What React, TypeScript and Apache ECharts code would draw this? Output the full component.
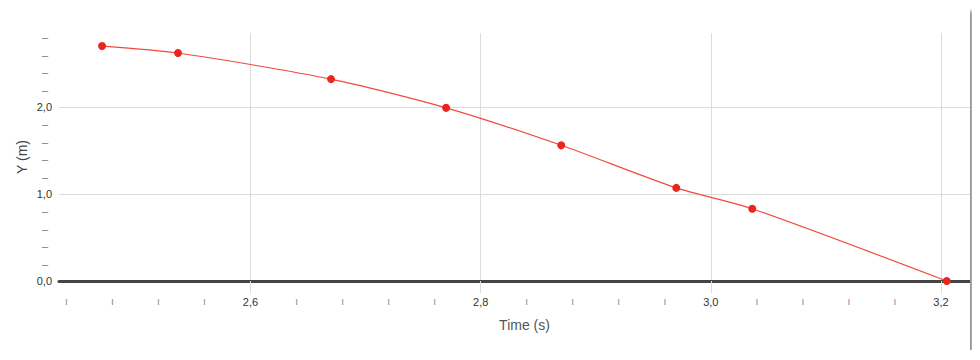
import React, { useEffect, useRef } from "react";
import * as echarts from "echarts";

const times = [2.471, 2.537, 2.67, 2.77, 2.87, 2.97, 3.036, 3.205];
const yValues = [2.7, 2.62, 2.32, 1.99, 1.56, 1.07, 0.83, 0.0];

const xMajorTicks = [2.6, 2.8, 3.0, 3.2];
const xLabelTicks = [
  2.44, 2.48, 2.52, 2.56, 2.6, 2.64, 2.68, 2.72, 2.76, 2.8, 2.84, 2.88, 2.92,
  2.96, 3.0, 3.04, 3.08, 3.12, 3.16, 3.2,
];
const yMajorTicks = [1, 2];
const yLabelTicks = [0, 0.2, 0.4, 0.6, 0.8, 1, 1.2, 1.4, 1.6, 1.8, 2, 2.2, 2.4, 2.6, 2.8];

const FONT = '"Liberation Sans", Arial, Helvetica, sans-serif';

const fmt = (v: number) => v.toFixed(1).replace(".", ",");

export default function App() {
  const ref = useRef<HTMLDivElement>(null);
  useEffect(() => {
    if (!ref.current) return;
    const chart = echarts.init(ref.current, null, { renderer: "svg" });
    chart.setOption({
      animation: false,
      backgroundColor: "#ffffff",
      textStyle: { fontFamily: FONT },
      grid: {
        left: 51,
        right: 0,
        top: 25,
        bottom: 69,
        containLabel: false,
        outerBoundsMode: "none",
      },
      xAxis: {
        type: "value",
        min: 2.4336,
        max: 3.2252,
        name: "Time (s)",
        nameLocation: "middle",
        nameGap: 37,
        nameMoveOverlap: false,
        nameTextStyle: { fontSize: 14, color: "#555", fontFamily: FONT, padding: [0, 0, 0, 20] },
        axisLine: { show: true, onZero: true, lineStyle: { color: "#444", width: 3 } },
        axisTick: {
          show: true,
          customValues: xMajorTicks,
          length: 12,
          lineStyle: { color: "#dcdcdc", width: 1 },
        },
        splitLine: { show: true, lineStyle: { color: "#dcdcdc", width: 1 } },
        axisLabel: {
          customValues: xLabelTicks,
          margin: 15,
          formatter: (v: number) => {
            const major = Math.abs(v * 5 - Math.round(v * 5)) < 1e-6;
            return major ? "{a|" + fmt(v) + "}" : "{b|ı}";
          },
          rich: {
            a: { fontSize: 11, color: "#333", fontFamily: FONT },
            b: { fontSize: 10, color: "#888", fontFamily: FONT },
          },
        },
      },
      yAxis: {
        type: "value",
        min: 0,
        max: 2.85,
        name: "Y (m)",
        nameLocation: "middle",
        nameGap: 30,
        nameMoveOverlap: false,
        nameTextStyle: { fontSize: 14, color: "#444", fontFamily: FONT },
        axisLine: { show: false },
        axisTick: { show: false, customValues: yMajorTicks },
        splitLine: { show: true, lineStyle: { color: "#dcdcdc", width: 1 } },
        axisLabel: {
          customValues: yLabelTicks,
          margin: 7,
          formatter: (v: number) => {
            const major = Math.abs(v - Math.round(v)) < 1e-6;
            return major ? "{a|" + fmt(v) + "}" : "{b|–}";
          },
          rich: {
            a: { fontSize: 11, color: "#333", fontFamily: FONT },
            b: { fontSize: 11, color: "#777", fontFamily: FONT, padding: [0, 4, 0, 0] },
          },
        },
      },
      series: [
        {
          type: "line",
          data: times.map((t, i) => [t, yValues[i]]),
          smooth: 0.25,
          symbol: "circle",
          symbolSize: 8,
          lineStyle: { color: "#f04a40", width: 1.2 },
          itemStyle: { color: "#e8261e" },
        },
      ],
    });
    return () => chart.dispose();
  }, []);
  return (
    <div
      ref={ref}
      style={{
        width: 962,
        height: 342,
        background: "#fff",
        boxShadow: "3px 3px 4px rgba(0,0,0,0.45)",
      }}
    />
  );
}
